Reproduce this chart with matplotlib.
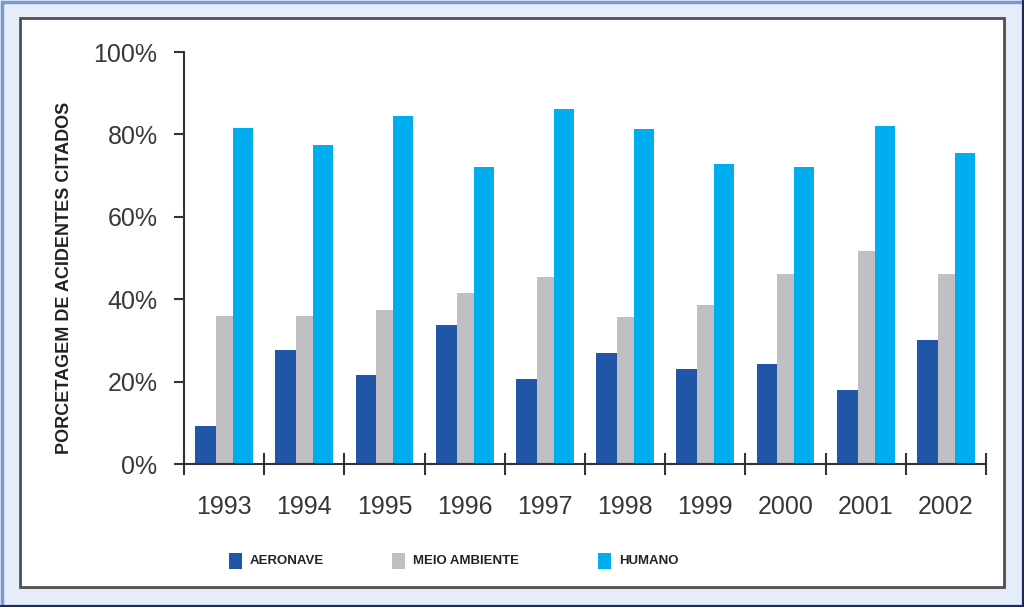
import matplotlib
matplotlib.use("Agg")
import matplotlib.pyplot as plt
from matplotlib import font_manager
from matplotlib.patches import Rectangle
import numpy as np

years = ["1993", "1994", "1995", "1996", "1997", "1998", "1999", "2000", "2001", "2002"]
series_names = ["AERONAVE", "MEIO AMBIENTE", "HUMANO"]
aeronave = [9.2, 27.6, 21.5, 33.7, 20.6, 26.9, 23.0, 24.2, 17.9, 30.0]
meio_ambiente = [36.0, 36.0, 37.5, 41.6, 45.3, 35.6, 38.7, 46.2, 51.6, 46.0]
humano = [81.6, 77.5, 84.5, 72.2, 86.2, 81.4, 72.9, 72.2, 82.1, 75.5]
ylabel = "PORCETAGEM DE ACIDENTES CITADOS"

colors = ["#2155a8", "#c0c0c4", "#00aeef"]

W, H = 1024, 607
DPI = 100
fig = plt.figure(figsize=(W / DPI, H / DPI), dpi=DPI, facecolor="#e4edf9")

names = {f.name for f in font_manager.fontManager.ttflist}
narrow = "Liberation Sans Narrow" if "Liberation Sans Narrow" in names else "Liberation Sans"
plt.rcParams["font.family"] = ["Liberation Sans", "DejaVu Sans"]

def px_rect(x0, y0, x1, y1, z=-1, **kw):
    return Rectangle((x0 / W, 1 - y1 / H), (x1 - x0) / W, (y1 - y0) / H,
                     transform=fig.transFigure, zorder=z, **kw)

# outer border
fig.patches.append(px_rect(1.5, 1.5, W - 1.5, H - 1.5, fill=False, edgecolor="#7b98d2", lw=2.5))
fig.patches.append(px_rect(W - 2, 0, W, H, facecolor="#1c2b55", edgecolor="none"))
fig.patches.append(px_rect(0, H - 2, W, H, facecolor="#1c2b55", edgecolor="none"))
# inner white panel
fig.patches.append(px_rect(22, 20, 1006, 589, facecolor="#9aa0aa", edgecolor="none", alpha=0.6))
fig.patches.append(px_rect(20, 18, 1004, 587, facecolor="white", edgecolor="#505050", lw=2))

ax = fig.add_axes([184 / W, 1 - 464 / H, (986 - 184) / W, (464 - 52) / H])
ax.set_facecolor("none")
ax.set_zorder(2)

x = np.arange(len(years))
widths = [0.26, 0.21, 0.25]
lefts = [-0.36, -0.10, 0.11]
for vals, w, l, c in zip([aeronave, meio_ambiente, humano], widths, lefts, colors):
    ax.bar(x + l, vals, width=w, align="edge", color=c, edgecolor="none")

ax.set_xlim(-0.5, len(years) - 0.5)
ax.set_ylim(0, 100)
for s in ["top", "right"]:
    ax.spines[s].set_visible(False)
for s in ["left", "bottom"]:
    ax.spines[s].set_color("#333333")
    ax.spines[s].set_linewidth(1.5)

ax.set_yticks([0, 20, 40, 60, 80, 100])
ax.set_yticklabels([f"{v}%" for v in [0, 20, 40, 60, 80, 100]])
ax.tick_params(axis="y", direction="out", length=7, width=1.5, color="#333333",
               labelsize=18, labelcolor="#383838", pad=12)

ax.set_xticks(x)
ax.set_xticklabels(years)
ax.tick_params(axis="x", which="major", length=0, labelsize=18, labelcolor="#383838", pad=22)
ax.set_xticks(np.arange(len(years) + 1) - 0.5, minor=True)
ax.tick_params(axis="x", which="minor", direction="inout", length=16, width=1.5, color="#333333")

fig.text(65 / W, 1 - 278 / H, ylabel, rotation=90, ha="center", va="center",
         family=[narrow, "DejaVu Sans"], fontsize=13, fontweight="bold", color="#222222")

# legend
leg_x = [229, 392, 598]
for name, c, lx in zip(series_names, colors, leg_x):
    fig.patches.append(px_rect(lx, 553, lx + 13, 569, z=1, facecolor=c, edgecolor="none"))
    fig.text((lx + 21) / W, 1 - 561 / H, name, ha="left", va="center",
             family=[narrow, "DejaVu Sans"], fontsize=9.5, fontweight="bold", color="#222222")

fig.savefig("out.png", dpi=DPI, facecolor=fig.get_facecolor())
